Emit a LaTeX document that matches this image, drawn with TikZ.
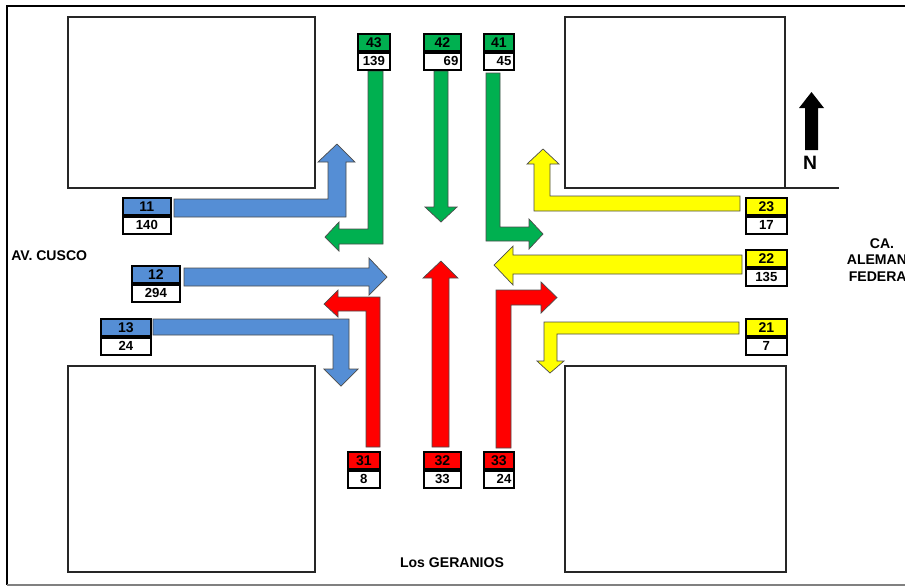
\documentclass[tikz,border=0pt]{standalone}
\usepackage{fontspec}
\setmainfont{Liberation Sans}
\usetikzlibrary{positioning}
\definecolor{flowblue}{HTML}{558ED5}
\definecolor{flowgreen}{HTML}{00B050}
\definecolor{flowred}{HTML}{FF0000}
\definecolor{flowyellow}{HTML}{FFFF00}
\tikzset{
  block/.style={draw=black!85, line width=1pt},
  flow/.style={draw=black!70, line width=0.4pt},
  movcell/.style={draw, line width=1pt, inner sep=0pt, minimum height=3.4mm,
    anchor=north west, font=\bfseries\fontsize{8}{9}\selectfont},
  cntcell/.style={draw, fill=white, line width=1pt, inner ysep=0pt, inner xsep=0.5mm,
    minimum height=3.4mm, font=\bfseries\fontsize{7.5}{9}\selectfont},
  cntright/.style={text width=#1, align=right},
  street/.style={font=\bfseries\fontsize{8}{9.2}\selectfont, align=center}
}
\begin{document}
\begin{tikzpicture}[x=0.2mm, y=-0.2mm]
			\clip (0,0) rectangle (905,586);
			\fill [white] (0,0) rectangle (905,586);
			\draw [line width=1.2pt] (930,6) -- (7,6) -- (7,585);
			\draw [black!50, line width=0.8pt] (7,585) -- (930,585);
			% manzanas
			\draw [block] (68,17) rectangle (315,188);
			\draw [block] (565,17) rectangle (785,188);
			\draw [block] (785,188) -- (839,188);
			\draw [block] (68,366) rectangle (315,572);
			\draw [block] (565,366) rectangle (786,572);
			% norte
			\fill [black] (805,150) -- (805,108) -- (799,108) -- (811.5,92) -- (824,108) -- (818,108) -- (818,150) -- cycle;
			\node [font=\bfseries\fontsize{11}{12}\selectfont] (norte) at (810,163) {N};
			% calles
			\node [street, anchor=west, inner xsep=0pt] (cusco) at (11,256) {AV. CUSCO};
			\node [street] (alemana) at (882,260) {CA.\\ALEMANA\\FEDERAL};
			\node [street] (geranios) at (452,563) {Los GERANIOS};
			% giros desde el oeste
			\draw [flow, fill=flowblue] (174,199) -- (328,199) -- (328,162) -- (318,162) -- (337,144) -- (355,162) -- (346,162) -- (346,217) -- (174,217) -- cycle;
			\draw [flow, fill=flowblue] (184,268) -- (369,268) -- (369,258) -- (387,277) -- (369,295) -- (369,286) -- (184,286) -- cycle;
			\draw [flow, fill=flowblue] (153,319) -- (349,319) -- (349,369) -- (358,369) -- (341,386) -- (324,369) -- (333,369) -- (333,335) -- (153,335) -- cycle;
			% giros desde el norte
			\draw [flow, fill=flowgreen] (368,71) -- (383,71) -- (383,244) -- (339,244) -- (339,251) -- (325,237) -- (339,222) -- (339,229) -- (368,229) -- cycle;
			\draw [flow, fill=flowgreen] (434,71) -- (448,71) -- (448,207) -- (457,207) -- (441,222) -- (425,207) -- (434,207) -- cycle;
			\draw [flow, fill=flowgreen] (486,73) -- (500,73) -- (500,227) -- (529,227) -- (529,219) -- (543,234) -- (529,249) -- (529,241) -- (486,241) -- cycle;
			% giros desde el sur
			\draw [flow, fill=flowred] (366,447) -- (366,311) -- (338,311) -- (338,317) -- (324,304) -- (338,290) -- (338,297) -- (380,297) -- (380,447) -- cycle;
			\draw [flow, fill=flowred] (432,447) -- (432,278) -- (423,278) -- (441,261) -- (458,278) -- (449,278) -- (449,447) -- cycle;
			\draw [flow, fill=flowred] (496,448) -- (496,290) -- (541,290) -- (541,282) -- (557,297.5) -- (541,313) -- (541,305) -- (511,305) -- (511,448) -- cycle;
			% giros desde el este
			\draw [flow, fill=flowyellow] (740,196) -- (740,211) -- (534,211) -- (534,164) -- (527,164) -- (543,149) -- (559,164) -- (550,164) -- (550,196) -- cycle;
			\draw [flow, fill=flowyellow] (742,255) -- (742,274) -- (513,274) -- (513,285) -- (494,265) -- (513,246) -- (513,255) -- cycle;
			\draw [flow, fill=flowyellow] (739,322) -- (739,334) -- (557,334) -- (557,361) -- (564,361) -- (550,373) -- (537,361) -- (544,361) -- (544,322) -- cycle;
			% conteos
			\node [movcell, fill=flowgreen, minimum width=6.4mm] (m43) at (357,33) {43};
			\node [cntcell, minimum width=6.4mm, below=0pt of m43] (c43) {139};
			\node [movcell, fill=flowgreen, minimum width=7.4mm] (m42) at (423,33) {42};
			\node [cntcell, cntright=6.4mm, below=0pt of m42] (c42) {69};
			\node [movcell, fill=flowgreen, minimum width=6mm] (m41) at (483,33) {41};
			\node [cntcell, cntright=5mm, below=0pt of m41] (c41) {45};
			\node [movcell, fill=flowred, minimum width=6.4mm] (m31) at (347,451) {31};
			\node [cntcell, minimum width=6.4mm, below=0pt of m31] (c31) {8};
			\node [movcell, fill=flowred, minimum width=7.4mm] (m32) at (423,451) {32};
			\node [cntcell, minimum width=7.4mm, below=0pt of m32] (c32) {33};
			\node [movcell, fill=flowred, minimum width=6mm] (m33) at (483,451) {33};
			\node [cntcell, cntright=5mm, below=0pt of m33] (c33) {24};
			\node [movcell, fill=flowblue, minimum width=9.6mm] (m11) at (122,197) {11};
			\node [cntcell, minimum width=9.6mm, below=0pt of m11] (c11) {140};
			\node [movcell, fill=flowblue, minimum width=9.6mm] (m12) at (131,265) {12};
			\node [cntcell, minimum width=9.6mm, below=0pt of m12] (c12) {294};
			\node [movcell, fill=flowblue, minimum width=10mm] (m13) at (100,318) {13};
			\node [cntcell, minimum width=10mm, below=0pt of m13] (c13) {24};
			\node [movcell, fill=flowyellow, minimum width=8.2mm] (m23) at (745,197) {23};
			\node [cntcell, minimum width=8.2mm, below=0pt of m23] (c23) {17};
			\node [movcell, fill=flowyellow, minimum width=8.2mm] (m22) at (745,249) {22};
			\node [cntcell, minimum width=8.2mm, below=0pt of m22] (c22) {135};
			\node [movcell, fill=flowyellow, minimum width=8.2mm] (m21) at (745,318) {21};
			\node [cntcell, minimum width=8.2mm, below=0pt of m21] (c21) {7};
		\end{tikzpicture}
\end{document}
